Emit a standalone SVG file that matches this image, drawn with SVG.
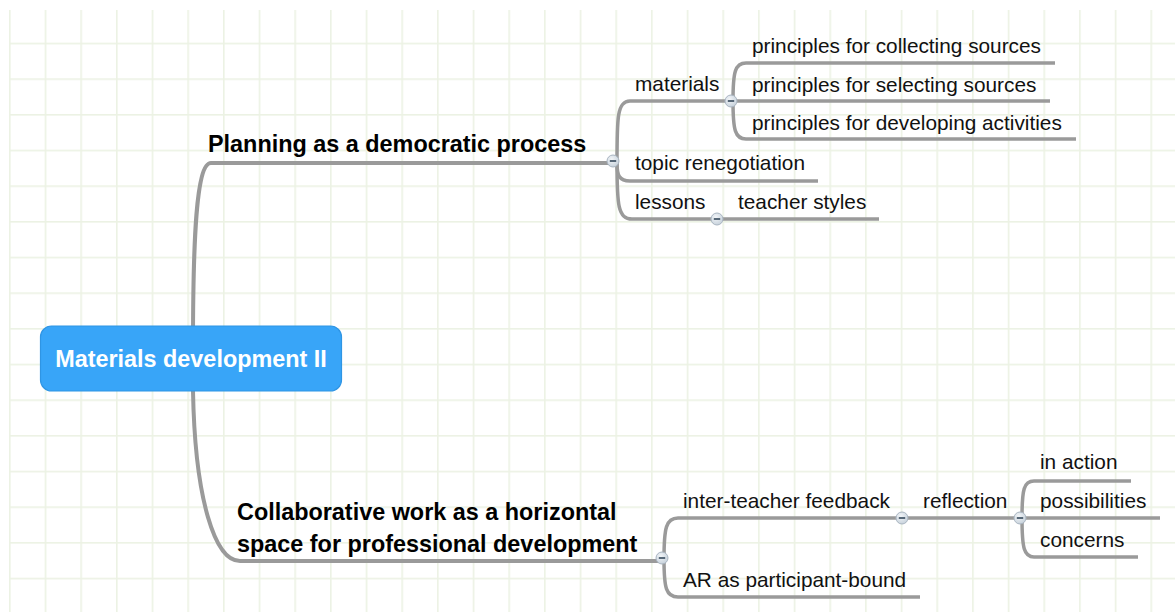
<svg xmlns="http://www.w3.org/2000/svg" width="1175" height="612" viewBox="0 0 1175 612">
  <style>
    .conn { fill: none; stroke: #9a9a9a; stroke-width: 3.5; stroke-linecap: butt; }
    .main { stroke-width: 4; }
    .t1 { font-family: "Liberation Sans", Arial, sans-serif; font-weight: bold; font-size: 23.4px; fill: #000; }
    .t2 { font-family: "Liberation Sans", Arial, sans-serif; font-size: 20.8px; fill: #111; }
    .root-t { font-family: "Liberation Sans", Arial, sans-serif; font-weight: bold; font-size: 23.4px; fill: #fff; }
  </style>
  <defs>
    <pattern id="grid" patternUnits="userSpaceOnUse" x="9" y="7" width="35.67" height="35.67">
      <rect x="0" y="0" width="1.6" height="35.67" fill="#ecf2e4"/>
      <rect x="0" y="0" width="35.67" height="1.6" fill="#ecf2e4"/>
    </pattern>
    <radialGradient id="expfill" cx="0.4" cy="0.35" r="0.7">
      <stop offset="0" stop-color="#f2f5f8"/>
      <stop offset="1" stop-color="#c5d0da"/>
    </radialGradient>
    <g id="minus">
      <circle cx="0" cy="0" r="6" fill="url(#expfill)" stroke="#a9b5c1" stroke-width="1"/>
      <line x1="-3.2" y1="0" x2="3.2" y2="0" stroke="#34485b" stroke-width="1.6"/>
    </g>
  </defs>
  <rect width="1175" height="612" fill="#fff"/>
  <rect x="9" y="10" width="1166" height="602" fill="url(#grid)"/>

  <g id="connectors">
    <path class="conn main" d="M193,345 C193,240 196,163 211,163 L613,163"/>
    <path class="conn main" d="M193,380 L193,391 C195,500 215,561 240,561 L662,561"/>
    <path class="conn" d="M617,163 C617,118 617,101 630,101 L731,101"/>
    <path class="conn" d="M617,163 C617,175 619,181 630,181 L818,181"/>
    <path class="conn" d="M617,163 C617,205 618,219 632,219 L879,219"/>
    <path class="conn" d="M733,101 C733,72 735,63 746,63 L1055,63"/>
    <path class="conn" d="M731,101 L1050,101"/>
    <path class="conn" d="M733,101 C733,130 735,139 746,139 L1076,139"/>
    <path class="conn" d="M664,559 C664,528 666,518 678,518 L902,518"/>
    <path class="conn" d="M664,559 C664,588 666,597 678,597 L920,597"/>
    <path class="conn" d="M902,518 L1020,518"/>
    <path class="conn" d="M1022,518 C1022,489 1024,481 1034,481 L1131,481"/>
    <path class="conn" d="M1020,518 L1160,518"/>
    <path class="conn" d="M1022,518 C1022,548 1024,557 1034,557 L1138,557"/>
  </g>

  <g id="root">
    <rect x="40.5" y="326" width="301" height="65" rx="11" fill="#38a5f8" stroke="#2f95e4" stroke-width="1.2"/>
    <text class="root-t" x="191" y="366.5" text-anchor="middle">Materials development II</text>
  </g>

  <g id="planning">
    <text class="t1" x="208" y="152">Planning as a democratic process</text>
    <use href="#minus" x="613" y="161"/>
  </g>
  <g id="materials">
    <text class="t2" x="635" y="91">materials</text>
    <use href="#minus" x="731" y="101"/>
  </g>
  <g id="collecting">
    <text class="t2" x="752" y="53">principles for collecting sources</text>
  </g>
  <g id="selecting">
    <text class="t2" x="752" y="92">principles for selecting sources</text>
  </g>
  <g id="developing">
    <text class="t2" x="752" y="130">principles for developing activities</text>
  </g>
  <g id="topic">
    <text class="t2" x="635" y="169.5">topic renegotiation</text>
  </g>
  <g id="lessons">
    <text class="t2" x="635" y="209">lessons</text>
    <use href="#minus" x="717" y="219"/>
  </g>
  <g id="teacher-styles">
    <text class="t2" x="738" y="209">teacher styles</text>
  </g>

  <g id="collaborative">
    <text class="t1" x="237" y="520">Collaborative work as a horizontal</text>
    <text class="t1" x="237" y="552">space for professional development</text>
    <use href="#minus" x="662" y="558"/>
  </g>
  <g id="inter-teacher">
    <text class="t2" x="683" y="507.5">inter-teacher feedback</text>
    <use href="#minus" x="902" y="518"/>
  </g>
  <g id="ar">
    <text class="t2" x="683" y="587">AR as participant-bound</text>
  </g>
  <g id="reflection">
    <text class="t2" x="923" y="508">reflection</text>
    <use href="#minus" x="1020" y="518"/>
  </g>
  <g id="in-action">
    <text class="t2" x="1040" y="469">in action</text>
  </g>
  <g id="possibilities">
    <text class="t2" x="1040" y="508">possibilities</text>
  </g>
  <g id="concerns">
    <text class="t2" x="1040" y="547">concerns</text>
  </g>
</svg>
